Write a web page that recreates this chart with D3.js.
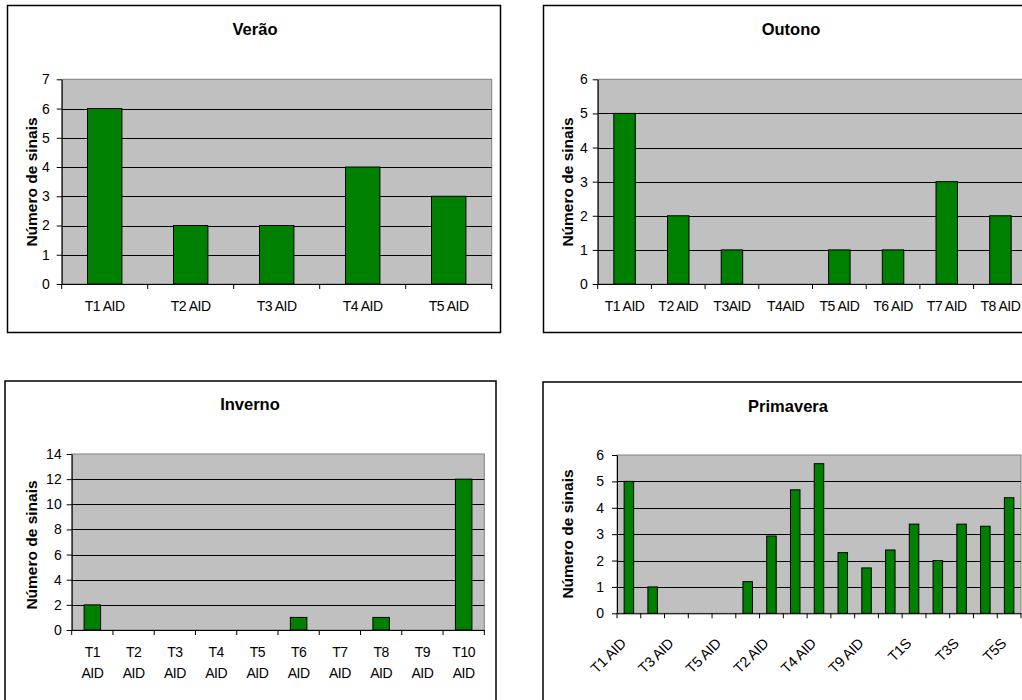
<!DOCTYPE html>
<html>
<head>
<meta charset="utf-8">
<script src="https://cdn.jsdelivr.net/npm/d3@7"></script>
<style>
  html, body { margin: 0; padding: 0; background: #fff; overflow: hidden; }
  svg { display: block; font-family: "Liberation Sans", Arial, sans-serif; }
</style>
</head>
<body>
<svg id="chart" width="1022" height="700"></svg>
<script>
// Número de sinais por estação
const veraoCats = ["T1 AID", "T2 AID", "T3 AID", "T4 AID", "T5 AID"];
const veraoVals = [6, 2, 2, 4, 3];
const veraoTicks = [0, 1, 2, 3, 4, 5, 6, 7];

const outonoCats = ["T1 AID", "T2 AID", "T3AID", "T4AID", "T5 AID", "T6 AID", "T7 AID", "T8 AID"];
const outonoVals = [5, 2, 1, 0, 1, 1, 3, 2];
const outonoTicks = [0, 1, 2, 3, 4, 5, 6];

const invernoCats = ["T1 AID", "T2 AID", "T3 AID", "T4 AID", "T5 AID", "T6 AID", "T7 AID", "T8 AID", "T9 AID", "T10 AID"];
const invernoVals = [2, 0, 0, 0, 0, 1, 0, 1, 0, 12];
const invernoTicks = [0, 2, 4, 6, 8, 10, 12, 14];

const primaveraCats = ["T1 AID", "T2 AID", "T3 AID", "T4 AID", "T5 AID", "T1 AID", "T2 AID", "T3 AID", "T4 AID",
                       "T8 AID", "T9 AID", "T10 AID", "T1S", "T2S", "T3S", "T4S", "T5S"];
const primaveraVals = [5, 1, 0, 0, 0, 1.2, 2.93, 4.68, 5.67, 2.3, 1.72, 2.4, 3.38, 2, 3.38, 3.3, 4.38];
const primaveraTicks = [0, 1, 2, 3, 4, 5, 6];

const svg = d3.select("#chart");
const FONT = "Liberation Sans, Arial, sans-serif";

function drawChart(opt) {
  const g = svg.append("g");
  const n = opt.cats.length;

  // chart frame
  g.append("rect")
    .attr("x", opt.box[0]).attr("y", opt.box[1])
    .attr("width", opt.box[2]).attr("height", opt.box[3])
    .attr("fill", "#fff").attr("stroke", "#000").attr("stroke-width", 1.5);

  const x = d3.scaleBand()
    .domain(d3.range(n))
    .range([opt.plot[0], opt.plot[1]])
    .paddingInner(0.6).paddingOuter(0.3);
  const yMax = opt.ticks[opt.ticks.length - 1];
  const y = d3.scaleLinear().domain([0, yMax]).range([opt.plot[3], opt.plot[2]]);

  // plot area
  g.append("rect")
    .attr("x", opt.plot[0]).attr("y", opt.plot[2])
    .attr("width", opt.plot[1] - opt.plot[0]).attr("height", opt.plot[3] - opt.plot[2])
    .attr("fill", "#c0c0c0").attr("stroke", "#808080").attr("stroke-width", 1);

  // gridlines
  g.append("g").selectAll("line")
    .data(opt.ticks.filter(t => t > 0 && t < yMax))
    .join("line")
    .attr("x1", opt.plot[0]).attr("x2", opt.plot[1])
    .attr("y1", d => Math.round(y(d)) + 0.5).attr("y2", d => Math.round(y(d)) + 0.5)
    .attr("stroke", "#000").attr("stroke-width", 1);

  // bars
  g.append("g").selectAll("rect")
    .data(opt.vals.map((v, i) => ({ v, i })).filter(d => d.v > 0))
    .join("rect")
    .attr("x", d => x(d.i))
    .attr("y", d => y(d.v))
    .attr("width", x.bandwidth())
    .attr("height", d => y(0) - y(d.v))
    .attr("fill", "#008000").attr("stroke", "#000").attr("stroke-width", 1);

  // y axis
  const ya = g.append("g")
    .attr("transform", `translate(${opt.plot[0]},0)`)
    .call(d3.axisLeft(y).tickValues(opt.ticks).tickFormat(d3.format("d"))
      .tickSize(5).tickSizeOuter(0).tickPadding(opt.pad));
  ya.selectAll("path, line").attr("stroke", "#000");
  ya.selectAll("text").attr("font-size", 14).attr("font-family", FONT).attr("fill", "#000");

  // x axis (labels)
  const step = x.step();
  const xa = g.append("g")
    .attr("transform", `translate(0,${opt.plot[3]})`)
    .call(d3.axisBottom(x)
      .tickValues(opt.labelEvery ? d3.range(0, n, opt.labelEvery) : d3.range(n))
      .tickSize(0).tickSizeOuter(0)
      .tickFormat(i => opt.cats[i]));
  xa.select("path").attr("stroke", "#000");
  xa.selectAll("text")
    .attr("font-size", 14).attr("letter-spacing", -0.5)
    .attr("font-family", FONT).attr("fill", "#000");

  if (opt.rotate) {
    xa.selectAll("text")
      .attr("x", 0).attr("y", 0).attr("dy", 0)
      .attr("font-size", 14.5).attr("letter-spacing", -0.3)
      .attr("text-anchor", "end")
      .attr("transform", "translate(-2,31) rotate(-45)");
  } else if (opt.twoLine) {
    xa.selectAll(".tick text").each(function (i) {
      const parts = opt.cats[i].split(" ");
      const t = d3.select(this).text(null).attr("y", 0).attr("dy", 0);
      parts.forEach((p, k) => {
        t.append("tspan").attr("x", 0).attr("y", 26.5 + k * 21).text(p);
      });
    });
  } else {
    xa.selectAll("text").attr("y", 17).attr("dy", 0).attr("dominant-baseline", "hanging");
  }

  // category boundary ticks
  xa.append("g").selectAll("line")
    .data(d3.range(n + 1))
    .join("line")
    .attr("x1", k => opt.plot[0] + k * step).attr("x2", k => opt.plot[0] + k * step)
    .attr("y1", 0).attr("y2", 5)
    .attr("stroke", "#000");

  // title
  g.append("text")
    .attr("x", opt.title[1]).attr("y", opt.title[2])
    .attr("text-anchor", "middle").attr("dominant-baseline", "central")
    .attr("font-size", 16.5).attr("font-weight", "bold")
    .text(opt.title[0]);

  // y label
  g.append("text")
    .attr("transform", `translate(${opt.ylab[0]},${opt.ylab[1]}) rotate(-90)`)
    .attr("text-anchor", "middle").attr("dominant-baseline", "central")
    .attr("font-size", 15.5).attr("font-weight", "bold")
    .text("Número de sinais");
}

drawChart({
  cats: veraoCats, vals: veraoVals, ticks: veraoTicks,
  box: [7.5, 5.5, 493, 327],
  plot: [61.7, 491.7, 79.3, 284], pad: 7,
  title: ["Verão", 255, 29], ylab: [31, 182]
});

drawChart({
  cats: outonoCats, vals: outonoVals, ticks: outonoTicks,
  box: [543.5, 5.5, 500, 327],
  plot: [597.7, 1027.3, 79.3, 284], pad: 5,
  title: ["Outono", 791, 29], ylab: [567, 182]
});

drawChart({
  cats: invernoCats, vals: invernoVals, ticks: invernoTicks,
  box: [5, 381, 491, 340],
  plot: [71.7, 484.3, 454, 630], pad: 5,
  title: ["Inverno", 250, 404], ylab: [31, 545], twoLine: true
});

drawChart({
  cats: primaveraCats, vals: primaveraVals, ticks: primaveraTicks,
  box: [543, 382, 500, 340],
  plot: [617, 1021, 455, 613.3], pad: 8,
  title: ["Primavera", 788, 406], ylab: [567.5, 534], rotate: true, labelEvery: 2
});
</script>
</body>
</html>
